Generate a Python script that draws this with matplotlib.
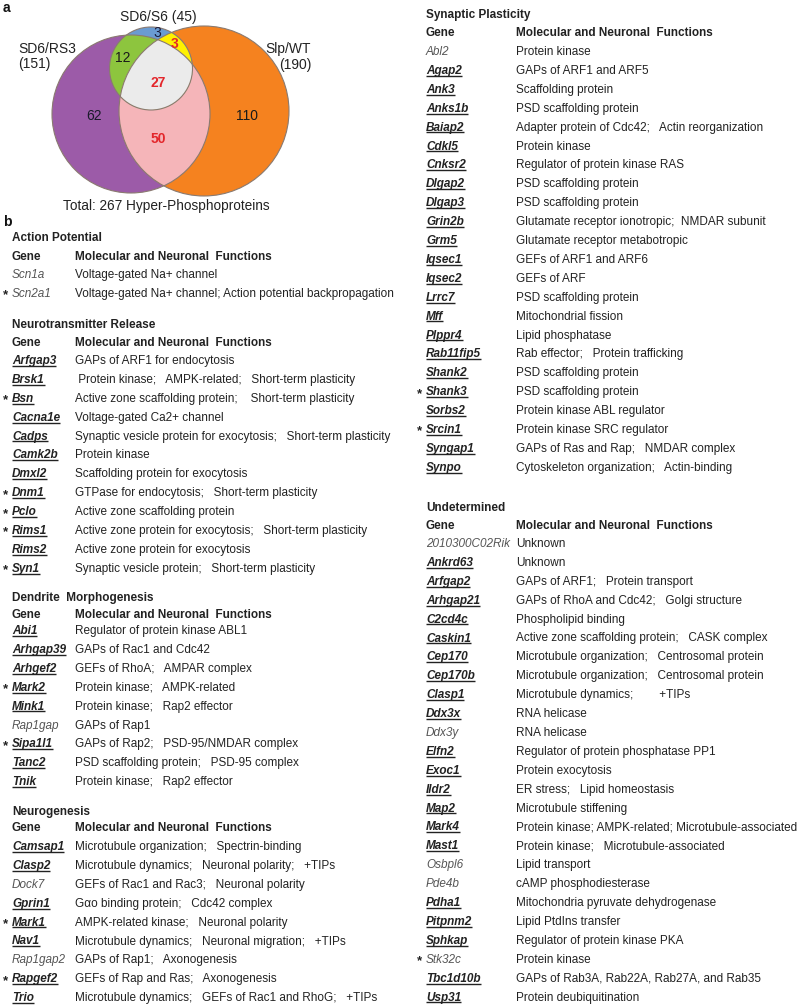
import matplotlib
matplotlib.use('Agg')
import matplotlib.pyplot as plt
from matplotlib.patches import Circle, Polygon
import numpy as np

plt.rcParams['font.family'] = ['Liberation Sans', 'DejaVu Sans']

# ---------------- Venn data ----------------
SET_NAMES = ['SD6/RS3', 'SD6/S6', 'Slp/WT']
ONLY_RS3, ONLY_S6, ONLY_WT = 62, 3, 110
RS3_S6, S6_WT, RS3_WT = 12, 3, 50
ALL_THREE = 27
TOTAL_TEXT = 'Hyper-Phosphoproteins'

# ---------------- Table data ----------------
AP_TITLE = 'Action Potential'
AP_GENES = ['Scn1a', 'Scn2a1']
AP_FUNCS = ['Voltage-gated Na+ channel',
            'Voltage-gated Na+ channel; Action potential backpropagation']

NR_TITLE = 'Neurotransmitter Release'
NR_GENES = ['Arfgap3', 'Brsk1', 'Bsn', 'Cacna1e', 'Cadps', 'Camk2b', 'Dmxl2',
            'Dnm1', 'Pclo', 'Rims1', 'Rims2', 'Syn1']
NR_FUNCS = ['GAPs of ARF1 for endocytosis',
            ' Protein kinase;   AMPK-related;   Short-term plasticity',
            'Active zone scaffolding protein;    Short-term plasticity',
            'Voltage-gated Ca2+ channel',
            'Synaptic vesicle protein for exocytosis;   Short-term plasticity',
            'Protein kinase',
            'Scaffolding protein for exocytosis',
            'GTPase for endocytosis;   Short-term plasticity',
            'Active zone scaffolding protein',
            'Active zone protein for exocytosis;   Short-term plasticity',
            'Active zone protein for exocytosis',
            'Synaptic vesicle protein;   Short-term plasticity']

DM_TITLE = 'Dendrite  Morphogenesis'
DM_GENES = ['Abi1', 'Arhgap39', 'Arhgef2', 'Mark2', 'Mink1', 'Rap1gap',
            'Sipa1l1', 'Tanc2', 'Tnik']
DM_FUNCS = ['Regulator of protein kinase ABL1',
            'GAPs of Rac1 and Cdc42',
            'GEFs of RhoA;   AMPAR complex',
            'Protein kinase;   AMPK-related',
            'Protein kinase;   Rap2 effector',
            'GAPs of Rap1',
            'GAPs of Rap2;   PSD-95/NMDAR complex',
            'PSD scaffolding protein;   PSD-95 complex',
            'Protein kinase;   Rap2 effector']

NG_TITLE = 'Neurogenesis'
NG_GENES = ['Camsap1', 'Clasp2', 'Dock7', 'Gprin1', 'Mark1', 'Nav1',
            'Rap1gap2', 'Rapgef2', 'Trio']
NG_FUNCS = ['Microtubule organization;   Spectrin-binding',
            'Microtubule dynamics;   Neuronal polarity;   +TIPs',
            'GEFs of Rac1 and Rac3;   Neuronal polarity',
            'G\u03b1o binding protein;   Cdc42 complex',
            'AMPK-related kinase;   Neuronal polarity',
            'Microtubule dynamics;   Neuronal migration;   +TIPs',
            'GAPs of Rap1;   Axonogenesis',
            'GEFs of Rap and Ras;   Axonogenesis',
            'Microtubule dynamics;   GEFs of Rac1 and RhoG;   +TIPs']

SP_TITLE = 'Synaptic Plasticity'
SP_GENES = ['Abl2', 'Agap2', 'Ank3', 'Anks1b', 'Baiap2', 'Cdkl5', 'Cnksr2',
            'Dlgap2', 'Dlgap3', 'Grin2b', 'Grm5', 'Iqsec1', 'Iqsec2', 'Lrrc7',
            'Mff', 'Plppr4', 'Rab11fip5', 'Shank2', 'Shank3', 'Sorbs2',
            'Srcin1', 'Syngap1', 'Synpo']
SP_FUNCS = ['Protein kinase',
            'GAPs of ARF1 and ARF5',
            'Scaffolding protein',
            'PSD scaffolding protein',
            'Adapter protein of Cdc42;   Actin reorganization',
            'Protein kinase',
            'Regulator of protein kinase RAS',
            'PSD scaffolding protein',
            'PSD scaffolding protein',
            'Glutamate receptor ionotropic;  NMDAR subunit',
            'Glutamate receptor metabotropic',
            'GEFs of ARF1 and ARF6',
            'GEFs of ARF',
            'PSD scaffolding protein',
            'Mitochondrial fission',
            'Lipid phosphatase',
            'Rab effector;   Protein trafficking',
            'PSD scaffolding protein',
            'PSD scaffolding protein',
            'Protein kinase ABL regulator',
            'Protein kinase SRC regulator',
            'GAPs of Ras and Rap;   NMDAR complex',
            'Cytoskeleton organization;   Actin-binding']

UD_TITLE = 'Undetermined'
UD_GENES = ['2010300C02Rik', 'Ankrd63', 'Arfgap2', 'Arhgap21', 'C2cd4c',
            'Caskin1', 'Cep170', 'Cep170b', 'Clasp1', 'Ddx3x', 'Ddx3y',
            'Elfn2', 'Exoc1', 'Ildr2', 'Map2', 'Mark4', 'Mast1', 'Osbpl6',
            'Pde4b', 'Pdha1', 'Pitpnm2', 'Sphkap', 'Stk32c', 'Tbc1d10b', 'Usp31']
UD_FUNCS = ['Unknown',
            'Unknown',
            'GAPs of ARF1;   Protein transport',
            'GAPs of RhoA and Cdc42;   Golgi structure',
            'Phospholipid binding',
            'Active zone scaffolding protein;   CASK complex',
            'Microtubule organization;   Centrosomal protein',
            'Microtubule organization;   Centrosomal protein',
            'Microtubule dynamics;        +TIPs',
            'RNA helicase',
            'RNA helicase',
            'Regulator of protein phosphatase PP1',
            'Protein exocytosis',
            'ER stress;   Lipid homeostasis',
            'Microtubule stiffening',
            'Protein kinase; AMPK-related; Microtubule-associated',
            'Protein kinase;   Microtubule-associated',
            'Lipid transport',
            'cAMP phosphodiesterase',
            'Mitochondria pyruvate dehydrogenase',
            'Lipid PtdIns transfer',
            'Regulator of protein kinase PKA',
            'Protein kinase',
            'GAPs of Rab3A, Rab22A, Rab27A, and Rab35',
            'Protein deubiquitination']

STARRED = ['Scn2a1', 'Bsn', 'Dnm1', 'Pclo', 'Rims1', 'Syn1', 'Mark2',
           'Sipa1l1', 'Mark1', 'Rapgef2', 'Shank3', 'Srcin1', 'Stk32c']
PLAIN = ['Scn1a', 'Scn2a1', 'Rap1gap', 'Dock7', 'Rap1gap2', 'Abl2',
         '2010300C02Rik', 'Ddx3y', 'Osbpl6', 'Pde4b', 'Stk32c']

HEADER_GENE = 'Gene'
HEADER_FUNC = 'Molecular and Neuronal  Functions'

# ---------------- Figure ----------------
W, H = 800, 1007
fig = plt.figure(figsize=(W / 100, H / 100), dpi=100)
ax = fig.add_axes([0, 0, 1, 1])
ax.set_xlim(0, W)
ax.set_ylim(H, 0)
ax.axis('off')

TXT = '#222222'
GRAY = '#555555'
EDGE = '#8a7a70'

# ---- Venn ----
c_rs3 = ((131, 114), 79)
c_wt = ((204, 111), 85)
c_s6 = ((151, 68.5), 41.5)

def circ(c, **kw):
    return Circle(c[0], c[1], transform=ax.transData, **kw)

ax.add_patch(circ(c_rs3, facecolor='#9c5ba8', edgecolor='none', zorder=1))
ax.add_patch(circ(c_wt, facecolor='#f5821f', edgecolor='none', zorder=1.1))
p = ax.add_patch(circ(c_wt, facecolor='#f5b5b9', edgecolor='none', zorder=1.2))
p.set_clip_path(circ(c_rs3))
ax.add_patch(circ(c_s6, facecolor='#6a9bd2', edgecolor='none', zorder=1.3))
p = ax.add_patch(circ(c_s6, facecolor='#8dc53e', edgecolor='none', zorder=1.4))
p.set_clip_path(circ(c_rs3))
p = ax.add_patch(circ(c_s6, facecolor='#fff100', edgecolor='none', zorder=1.4))
p.set_clip_path(circ(c_wt))

# triple intersection (convex) polygon
pts = []
cs = [c_rs3, c_wt, c_s6]
for i, (cc, r) in enumerate(cs):
    t = np.linspace(0, 2 * np.pi, 1440, endpoint=False)
    xs = cc[0] + r * np.cos(t)
    ys = cc[1] + r * np.sin(t)
    ok = np.ones_like(xs, dtype=bool)
    for j, (cc2, r2) in enumerate(cs):
        if j != i:
            ok &= (xs - cc2[0]) ** 2 + (ys - cc2[1]) ** 2 <= r2 ** 2 + 1e-6
    pts += list(zip(xs[ok], ys[ok]))
pts = np.array(pts)
cen = pts.mean(axis=0)
order = np.argsort(np.arctan2(pts[:, 1] - cen[1], pts[:, 0] - cen[0]))
ax.add_patch(Polygon(pts[order], closed=True, facecolor='#ebebeb',
                     edgecolor='none', zorder=1.5))
for c in cs:
    ax.add_patch(circ(c, facecolor='none', edgecolor=EDGE, lw=0.8, zorder=2))

tot_rs3 = ONLY_RS3 + RS3_S6 + RS3_WT + ALL_THREE
tot_s6 = ONLY_S6 + RS3_S6 + S6_WT + ALL_THREE
tot_wt = ONLY_WT + S6_WT + RS3_WT + ALL_THREE
total = ONLY_RS3 + ONLY_S6 + ONLY_WT + RS3_S6 + S6_WT + RS3_WT + ALL_THREE

VFS = 10
ax.text(158, 17, f'{SET_NAMES[1]} ({tot_s6})', ha='center', va='center', fontsize=VFS, color=TXT)
ax.text(18, 49, SET_NAMES[0], ha='left', va='center', fontsize=VFS, color=TXT)
ax.text(18, 64, f'({tot_rs3})', ha='left', va='center', fontsize=VFS, color=TXT)
ax.text(311, 49, SET_NAMES[2], ha='right', va='center', fontsize=VFS, color=TXT)
ax.text(311, 65, f'({tot_wt})', ha='right', va='center', fontsize=VFS, color=TXT)
RED = '#e3262b'
ax.text(157, 33, str(ONLY_S6), ha='center', va='center', fontsize=VFS, color='#1a1a3a', zorder=3)
ax.text(175, 44, str(S6_WT), ha='center', va='center', fontsize=VFS, color=RED, fontweight='bold', zorder=3)
ax.text(123, 58, str(RS3_S6), ha='center', va='center', fontsize=VFS, color='#1a1a1a', zorder=3)
ax.text(158, 83, str(ALL_THREE), ha='center', va='center', fontsize=VFS, color=RED, fontweight='bold', zorder=3)
ax.text(94, 116, str(ONLY_RS3), ha='center', va='center', fontsize=VFS, color='#1a1a2a', zorder=3)
ax.text(247, 116, str(ONLY_WT), ha='center', va='center', fontsize=VFS, color='#1a1a1a', zorder=3)
ax.text(158, 139, str(RS3_WT), ha='center', va='center', fontsize=VFS, color=RED, fontweight='bold', zorder=3)
ax.text(166, 206, f'Total: {total} {TOTAL_TEXT}', ha='center', va='center', fontsize=9.8, color=TXT)

ax.text(3, 8, 'a', ha='left', va='center', fontsize=10, fontweight='bold', color='#111111')
ax.text(3, 222, 'b', ha='left', va='center', fontsize=10, fontweight='bold', color='#111111')

# ---- Tables ----
FS = 8.5
STEP = 18.9
# (title, genes, funcs, x_gene, x_func, y_title, y_header, y_first)
sections = [
    (AP_TITLE, AP_GENES, AP_FUNCS, 12, 75, 238, 257, 275),
    (NR_TITLE, NR_GENES, NR_FUNCS, 12, 75, 325, 343, 361),
    (DM_TITLE, DM_GENES, DM_FUNCS, 12, 75, 598, 615, 631),
    (NG_TITLE, NG_GENES, NG_FUNCS, 12, 75, 812, 828, 847),
    (SP_TITLE, SP_GENES, SP_FUNCS, 426, 516, 15, 33, 52),
    (UD_TITLE, UD_GENES, UD_FUNCS, 426, 516, 508, 526, 544),
]

underline_texts = []
for title, genes, funcs, xg, xf, yt, yh, y0 in sections:
    ax.text(xg, yt, title, ha='left', va='center', fontsize=FS, fontweight='bold', color=TXT)
    ax.text(xg, yh, HEADER_GENE, ha='left', va='center', fontsize=FS, fontweight='bold', color=TXT)
    ax.text(xf, yh, HEADER_FUNC, ha='left', va='center', fontsize=FS, fontweight='bold', color=TXT)
    for i, (g, f) in enumerate(zip(genes, funcs)):
        y = y0 + i * STEP
        if g in PLAIN:
            ax.text(xg, y, g, ha='left', va='center', fontsize=FS, style='italic', color=GRAY)
        else:
            t = ax.text(xg, y, g, ha='left', va='center', fontsize=FS, style='italic',
                        fontweight='bold', color=TXT)
            underline_texts.append(t)
        if g in STARRED:
            ax.text(xg - 7, y + 1.5, '*', ha='center', va='center', fontsize=FS + 1,
                    fontweight='bold', color=TXT)
        ax.text(xf, y, f, ha='left', va='center', fontsize=FS, color=TXT)

fig.canvas.draw()
r = fig.canvas.get_renderer()
for t in underline_texts:
    bb = t.get_window_extent(renderer=r)
    yb = H - bb.y0 - 1.2
    ax.plot([bb.x0, bb.x1], [yb, yb], color=TXT, lw=1.0, solid_capstyle='butt')

fig.savefig('out.png', dpi=100)
